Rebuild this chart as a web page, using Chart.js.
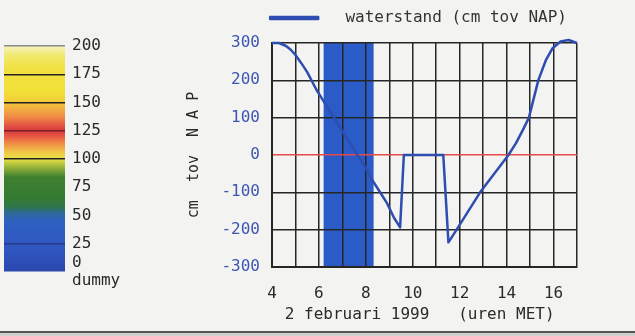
<!DOCTYPE html>
<html>
<head>
<meta charset="utf-8">
<script src="https://cdn.jsdelivr.net/npm/chart.js@4"></script>
<style>
  html, body { margin: 0; padding: 0; background: #f3f3f1; }
  #wrap { position: relative; width: 635px; height: 336px; overflow: hidden; }
  #main-chart { position: absolute; left: 0; top: 0; }
  #scale-chart { position: absolute; left: 0; top: 0; z-index: 1; }
  #foot { position: absolute; left: 0; top: 331px; width: 635px; height: 5px; background: #cfcfcd; border-top: 2px solid #555; }
</style>
</head>
<body>
<div id="wrap">
  <canvas id="main-chart" width="635" height="336"></canvas>
  <canvas id="scale-chart" width="130" height="336"></canvas>
  <div id="foot"></div>
</div>
<script>
// waterstand, 2 februari 1999 (uren MET)
const hours  = [4.0, 4.3, 4.6, 4.8, 5.0, 5.25, 5.5, 5.9, 6.17, 7.0, 8.0, 8.25, 8.6, 8.9, 9.2, 9.46, 9.62, 11.3, 11.52, 11.87, 12.87, 14.08, 14.4, 14.7, 14.95, 15.35, 15.68, 15.96, 16.3, 16.64, 17.0];
const levels = [300, 300, 292, 282, 268, 246, 222, 174, 147, 64, -35, -65, -99, -129, -168, -194, 0, 0, -234, -200, -100, 0, 32, 68, 100, 200, 255, 286, 304, 308, 300];

const bandStart = 6.2;
const bandEnd = 8.33;

const xTickLabels = [4, 6, 8, 10, 12, 14, 16];
const yTickLabels = [-300, -200, -100, 0, 100, 200, 300];

// kleurenbalk links
const scaleTicks = [0, 25, 50, 75, 100, 125, 150, 175, 200];
const scaleBottomLabel = 'dummy';

const gradientStops = [
  [0, '#2b47ad'], [20, '#2f56bf'], [45, '#3060c2'], [52, '#2d6a9a'], [58, '#2f7548'],
  [65, '#357a32'], [84, '#3e8030'], [92, '#90b038'], [100, '#e8e048'], [106, '#f0c848'],
  [114, '#f08a45'], [120, '#e85842'], [125, '#d83a40'], [130, '#e45545'], [137, '#f08a45'],
  [145, '#f2b040'], [152, '#f2d038'], [160, '#f2e038'], [180, '#f0e040'], [192, '#f2ea70'],
  [200, '#f6f2c0'],
];
const scaleLineColors = { 200: '#8a8a8a', 175: '#222', 150: '#222', 125: '#7a1f24', 100: '#222', 25: '#27398c' };

const curveColor = '#2e4db0';
const bandColor = '#2a5bc7';
const gridColor = '#262626';
const zeroColor = '#e64a4a';

Chart.defaults.font.family = "'DejaVu Sans Mono', monospace";
Chart.defaults.color = '#2a2a2a';

const bandPlugin = {
  id: 'band',
  beforeDraw(chart) {
    const { ctx, chartArea, scales } = chart;
    const x0 = scales.x.getPixelForValue(bandStart);
    const x1 = scales.x.getPixelForValue(bandEnd);
    ctx.save();
    ctx.fillStyle = bandColor;
    ctx.fillRect(x0, chartArea.top, x1 - x0, chartArea.bottom - chartArea.top);
    ctx.restore();
  },
};

const legendGap = {
  id: 'legendGap',
  beforeInit(chart) {
    const fit = chart.legend.fit;
    chart.legend.fit = function () {
      fit.call(this);
      this.height += 7;
    };
  },
};

new Chart(document.getElementById('main-chart').getContext('2d'), {
  type: 'line',
  data: {
    datasets: [{
      label: '  waterstand (cm tov NAP)',
      data: hours.map((h, i) => ({ x: h, y: levels[i] })),
      borderColor: curveColor,
      backgroundColor: curveColor,
      borderWidth: 2.5,
      pointRadius: 0,
      tension: 0,
      borderJoinStyle: 'round',
      clip: false,
    }],
  },
  options: {
    responsive: false,
    animation: false,
    devicePixelRatio: 1,
    layout: { padding: { left: 180, right: 58, top: 0, bottom: 0 } },
    plugins: {
      tooltip: { enabled: false },
      legend: {
        align: 'end',
        labels: {
          boxWidth: 48,
          boxHeight: 2,
          padding: 10,
          color: '#333',
          font: { size: 16 },
        },
      },
    },
    scales: {
      x: {
        type: 'linear',
        min: 4,
        max: 17,
        afterFit: (scale) => { scale.height = 69; },
        border: { display: true, color: gridColor, width: 2 },
        grid: { color: gridColor, lineWidth: 1.5, drawTicks: false },
        ticks: {
          stepSize: 1,
          autoSkip: false,
          maxRotation: 0,
          padding: 17,
          color: '#2a2a2a',
          font: { size: 16 },
          callback: (v) => (xTickLabels.includes(v) ? String(v) : ''),
        },
        title: {
          display: true,
          text: '2 februari 1999   (uren MET) ',
          color: '#2a2a2a',
          font: { size: 16 },
          padding: { top: 0, bottom: 12 },
        },
      },
      y: {
        min: -300,
        max: 300,
        afterFit: (scale) => { scale.width = 92; },
        border: { display: true, color: gridColor, width: 2 },
        grid: {
          drawTicks: false,
          lineWidth: 1.5,
          color: (ctx) => (ctx.tick && ctx.tick.value === 0 ? zeroColor : gridColor),
        },
        ticks: {
          stepSize: 100,
          padding: 12,
          color: '#3d56b0',
          font: { size: 16 },
          callback: (v) => (yTickLabels.includes(v) ? String(v) : ''),
        },
        title: {
          display: true,
          text: 'cm  tov  N A P',
          color: '#2a2a2a',
          font: { size: 15 },
          padding: { top: 5, bottom: 0 },
        },
      },
    },
  },
  plugins: [bandPlugin, legendGap],
});

new Chart(document.getElementById('scale-chart').getContext('2d'), {
  type: 'bar',
  data: {
    labels: [scaleBottomLabel],
    datasets: [{
      data: [scaleTicks[scaleTicks.length - 1]],
      barPercentage: 1,
      categoryPercentage: 1,
      backgroundColor: (ctx) => {
        const chart = ctx.chart;
        const y = chart.scales.y;
        if (!chart.chartArea || !y) return gradientStops[0][1];
        const top = y.getPixelForValue(200);
        const bottom = y.getPixelForValue(0);
        const g = chart.ctx.createLinearGradient(0, bottom, 0, top);
        gradientStops.forEach(([v, c]) => g.addColorStop(v / 200, c));
        return g;
      },
    }],
  },
  options: {
    responsive: false,
    animation: false,
    devicePixelRatio: 1,
    layout: { padding: { left: 4, right: 0, top: 46, bottom: 64 } },
    plugins: { legend: { display: false }, tooltip: { enabled: false } },
    scales: {
      x: { display: false },
      y: {
        position: 'right',
        min: 0,
        max: 200,
        afterFit: (scale) => { scale.width = 65; },
        border: { display: false },
        grid: {
          z: 1,
          drawTicks: false,
          lineWidth: 1.5,
          color: (ctx) => scaleLineColors[ctx.tick ? ctx.tick.value : -1] || 'rgba(0,0,0,0)',
        },
        ticks: {
          stepSize: 25,
          autoSkip: false,
          padding: 7,
          color: '#2a2a2a',
          font: { size: 16, lineHeight: 1.1 },
          callback: (v) => (v === 0 ? ['0', scaleBottomLabel] : (scaleTicks.includes(v) ? String(v) : '')),
        },
      },
    },
  },
});
</script>
</body>
</html>
